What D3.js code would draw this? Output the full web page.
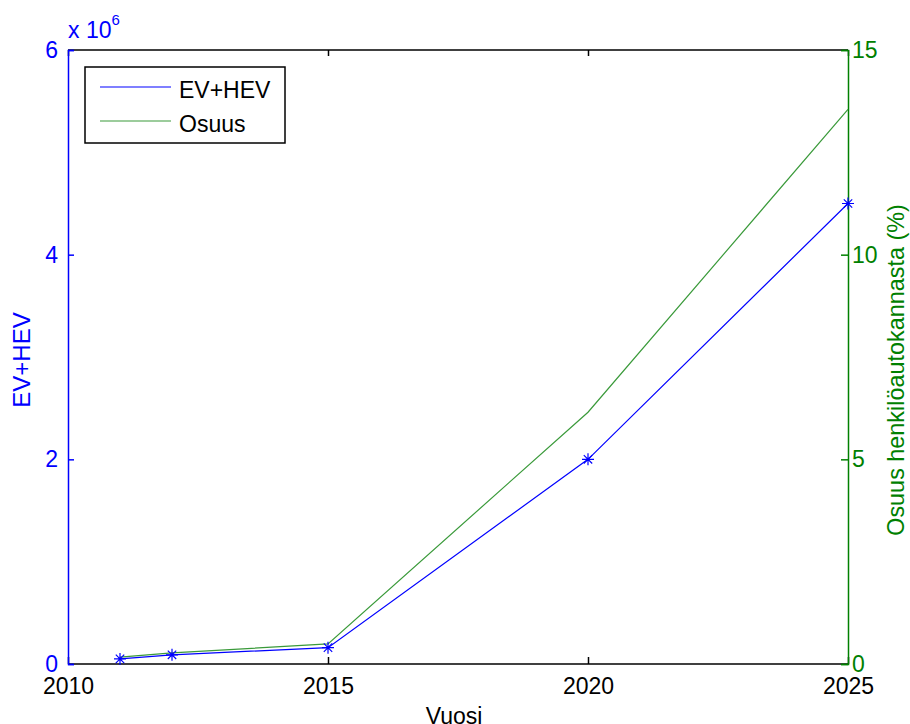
<!DOCTYPE html>
<html lang="en">
<head>
	<meta charset="utf-8">
	<script src='https://d3js.org/d3.v7.min.js'></script>
	<style>
		body { margin: 0; background: #fff; }
		text { font-family: "Liberation Sans", Arial, sans-serif; }
	</style>
</head>
<body>
	<script>
		var width = 910,
			height = 724;

		// data
		var years = [2011, 2012, 2015, 2020, 2025];
		var evHev = [50000, 90000, 160000, 2000000, 4500000];
		var osuus = [0.17, 0.27, 0.49, 6.15, 13.55];
		var xTicks = [2010, 2015, 2020, 2025];
		var leftTicks = [0, 2, 4, 6];
		var rightTicks = [0, 5, 10, 15];
		var legendNames = ['EV+HEV', 'Osuus'];

		var blue = '#0000ff', green = '#008000', lineGreen = '#3a9a3a';

		var margin = {left: 68, right: 62, top: 50, bottom: 60};

		var svg = d3.select('body')
			.append('svg')
			.attr('width', width)
			.attr('height', height);

		var x = d3.scaleLinear().domain([2010, 2025]).range([margin.left, width - margin.right]);
		var yL = d3.scaleLinear().domain([0, 6e6]).range([height - margin.bottom, margin.top]);
		var yR = d3.scaleLinear().domain([0, 15]).range([height - margin.bottom, margin.top]);

		var x0 = x.range()[0], x1 = x.range()[1];
		var y0 = yL.range()[0], y1 = yL.range()[1];

		// top/bottom box lines
		svg.append('line').attr('x1', x0).attr('x2', x1).attr('y1', y1).attr('y2', y1)
			.attr('stroke', '#000').attr('stroke-width', 1.5);
		svg.append('line').attr('x1', x0).attr('x2', x1).attr('y1', y0).attr('y2', y0)
			.attr('stroke', '#000').attr('stroke-width', 1.5);

		// x axis (ticks inward, both bottom and top)
		var xAxis = d3.axisBottom(x).tickValues(xTicks).tickSize(-7).tickPadding(14).tickFormat(d3.format('d'));
		var gx = svg.append('g').attr('transform', 'translate(0,' + y0 + ')').call(xAxis);
		gx.select('.domain').remove();
		gx.selectAll('line').attr('stroke', '#000').attr('stroke-width', 1.5);
		gx.selectAll('text').attr('fill', '#000').style('font-size', '23px');

		var gxt = svg.append('g').attr('transform', 'translate(0,' + y1 + ')')
			.call(d3.axisTop(x).tickValues(xTicks).tickSize(-6).tickFormat(''));
		gxt.select('.domain').remove();
		gxt.selectAll('line').attr('stroke', '#000').attr('stroke-width', 1.5);

		// left axis
		var gl = svg.append('g').attr('transform', 'translate(' + x0 + ',0)')
			.call(d3.axisLeft(yL).tickValues(leftTicks.map(function(d) { return d * 1e6; }))
				.tickSize(-6).tickPadding(10).tickFormat(function(d) { return d / 1e6; }));
		gl.select('.domain').attr('stroke', blue).attr('stroke-width', 1.5);
		gl.selectAll('line').attr('stroke', blue).attr('stroke-width', 1.5);
		gl.selectAll('text').attr('fill', blue).style('font-size', '23px');

		// right axis
		var gr = svg.append('g').attr('transform', 'translate(' + x1 + ',0)')
			.call(d3.axisRight(yR).tickValues(rightTicks).tickSize(-7).tickPadding(4));
		gr.select('.domain').attr('stroke', green).attr('stroke-width', 1.5);
		gr.selectAll('line').attr('stroke', green).attr('stroke-width', 1.5);
		gr.selectAll('text').attr('fill', green).style('font-size', '23px');

		// exponent label
		var ex = svg.append('text').attr('x', x0).attr('y', 38).attr('fill', blue).style('font-size', '23px');
		ex.append('tspan').text('x 10');
		ex.append('tspan').attr('dy', -13).style('font-size', '15px').text('6');

		// axis titles
		svg.append('text').attr('x', 454).attr('y', 724)
			.attr('text-anchor', 'middle').style('font-size', '23px').text('Vuosi');
		svg.append('text').attr('transform', 'translate(30,360) rotate(-90)')
			.attr('text-anchor', 'middle').attr('fill', blue).style('font-size', '24px').text('EV+HEV');
		svg.append('text').attr('transform', 'translate(904,370) rotate(-90)')
			.attr('text-anchor', 'middle').attr('fill', green).style('font-size', '23.4px')
			.text('Osuus henkilöautokannasta (%)');

		// lines
		var lineL = d3.line().x(function(d, i) { return x(years[i]); }).y(function(d) { return yL(d); });
		var lineR = d3.line().x(function(d, i) { return x(years[i]); }).y(function(d) { return yR(d); });

		svg.append('path').datum(osuus).attr('d', lineR)
			.attr('fill', 'none').attr('stroke', lineGreen).attr('stroke-width', 1.2);
		svg.append('path').datum(evHev).attr('d', lineL)
			.attr('fill', 'none').attr('stroke', blue).attr('stroke-width', 1.2);

		// asterisk markers
		var s = 6;
		var mk = svg.selectAll('.mk').data(evHev).join('g').attr('class', 'mk')
			.attr('transform', function(d, i) { return 'translate(' + x(years[i]) + ',' + yL(d) + ')'; })
			.attr('stroke', blue).attr('stroke-width', 1.2);
		mk.append('path').attr('d', 'M' + (-s) + ',0H' + s + 'M0,' + (-s) + 'V' + s +
			'M' + (-s * 0.7) + ',' + (-s * 0.7) + 'L' + (s * 0.7) + ',' + (s * 0.7) +
			'M' + (-s * 0.7) + ',' + (s * 0.7) + 'L' + (s * 0.7) + ',' + (-s * 0.7));

		// legend
		var lg = svg.append('g');
		lg.append('rect').attr('x', 85).attr('y', 67).attr('width', 200).attr('height', 76)
			.attr('fill', '#fff').attr('stroke', '#000').attr('stroke-width', 1.5);
		var cols = [blue, lineGreen];
		legendNames.forEach(function(n, i) {
			var yy = 87 + i * 34;
			lg.append('line').attr('x1', 100).attr('x2', 171).attr('y1', yy).attr('y2', yy)
				.attr('stroke', cols[i]).attr('stroke-width', 1.2);
			lg.append('text').attr('x', 179).attr('y', yy + 11).style('font-size', '23px').text(n);
		});
	</script>
</body>
</html>
